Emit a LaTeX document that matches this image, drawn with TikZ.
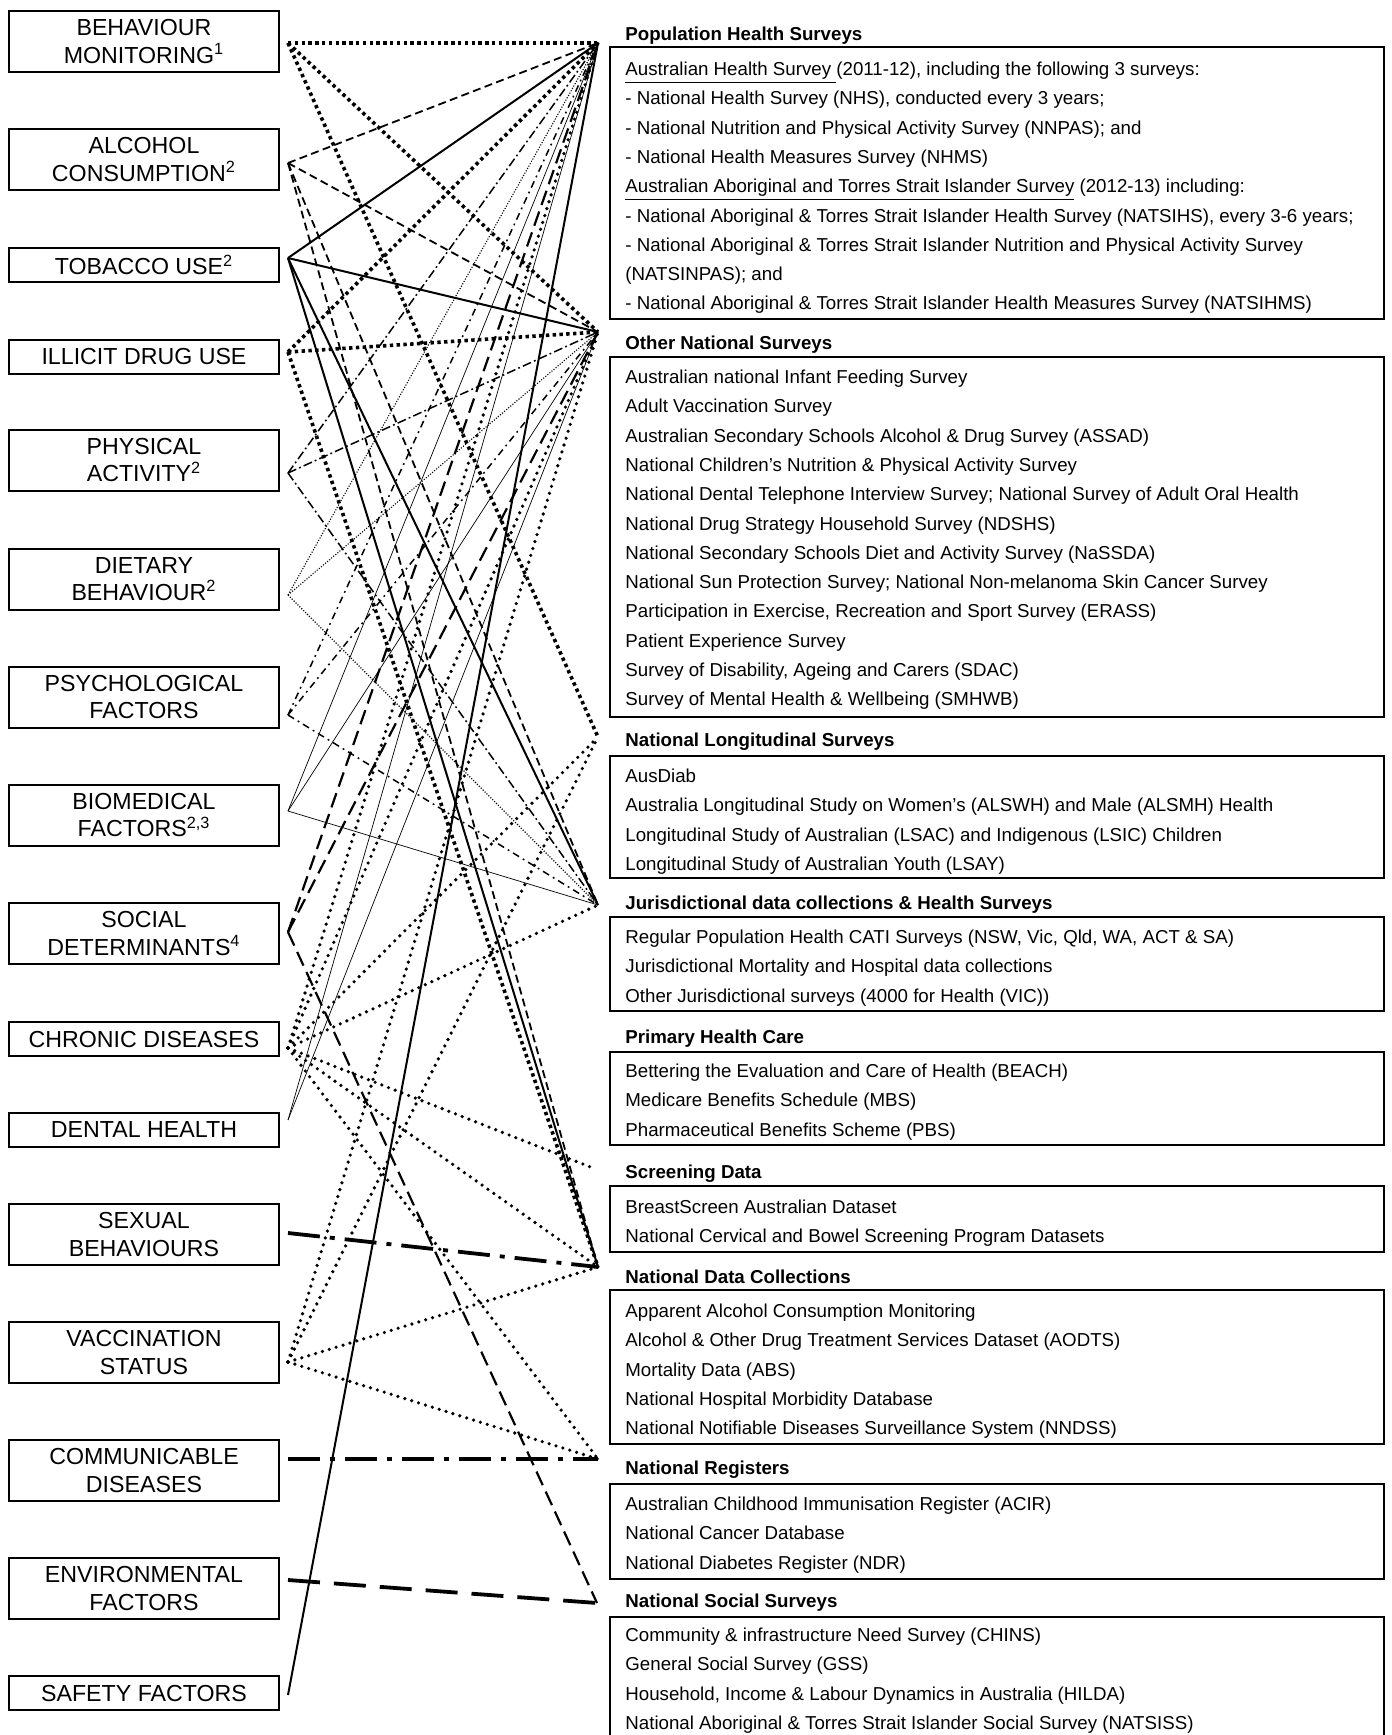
\documentclass[tikz,border=0pt]{standalone}
\usepackage{fontspec}
\setmainfont{Liberation Sans}
\begin{document}
\begin{tikzpicture}[x=0.5pt, y=-0.5pt]
	\tikzstyle{lbox} = [rectangle,draw=black,line width=1pt,minimum width=135pt,align=center,inner sep=0pt,font=\fontsize{11.6}{13.8}\selectfont]
	\tikzstyle{lbox2} = [lbox,minimum height=30.5pt]
	\tikzstyle{lbox1} = [lbox,minimum height=17pt]
	\tikzstyle{rbox} = [rectangle,draw=black,line width=1pt,minimum width=387pt,anchor=north west,inner sep=0pt]
	\tikzstyle{head} = [anchor=base west,inner sep=0pt,font=\bfseries\fontsize{9.35}{10}\selectfont]
	\tikzstyle{item} = [anchor=base west,inner sep=0pt,font=\fontsize{9.35}{10}\selectfont]
	% line looks, one per topic
	\tikzstyle{bmline} = [line width=1.8pt,dash pattern=on 1.7pt off 1.7pt]
	\tikzstyle{alcline} = [line width=0.9pt,dash pattern=on 4pt off 2.2pt]
	\tikzstyle{tobline} = [line width=1pt]
	\tikzstyle{actline} = [line width=0.75pt,dash pattern=on 4.5pt off 1.6pt on 0.9pt off 1.6pt]
	\tikzstyle{dietline} = [line width=0.55pt,dash pattern=on 0.55pt off 0.8pt]
	\tikzstyle{psyline} = [line width=0.75pt,dash pattern=on 3.5pt off 2.2pt on 0.9pt off 2.2pt]
	\tikzstyle{bioline} = [line width=0.35pt]
	\tikzstyle{socline} = [line width=1.1pt,dash pattern=on 7.5pt off 3.5pt]
	\tikzstyle{chrline} = [line width=1.8pt,line cap=round,dash pattern=on 0pt off 3.6pt]
	\tikzstyle{sexline} = [line width=1.9pt,dash pattern=on 16pt off 5pt on 2.5pt off 5pt]
	\tikzstyle{envline} = [line width=1.9pt,dash pattern=on 16pt off 7pt]
	\useasboundingbox (0,0) rectangle (1392,1735);

	% topics
	\node[lbox2](beh) at (144,41.5){BEHAVIOUR\\MONITORING\textsuperscript{1}};
	\node[lbox2](alc) at (144,159.5){ALCOHOL\\CONSUMPTION\textsuperscript{2}};
	\node[lbox1](tob) at (144,265){TOBACCO USE\textsuperscript{2}};
	\node[lbox1](ill) at (144,356.5){ILLICIT DRUG USE};
	\node[lbox2](phy) at (144,460){PHYSICAL\\ACTIVITY\textsuperscript{2}};
	\node[lbox2](die) at (144,579){DIETARY\\BEHAVIOUR\textsuperscript{2}};
	\node[lbox2](psy) at (144,697){PSYCHOLOGICAL\\FACTORS};
	\node[lbox2](bio) at (144,815){BIOMEDICAL\\FACTORS\textsuperscript{2,3}};
	\node[lbox2](soc) at (144,933.5){SOCIAL\\DETERMINANTS\textsuperscript{4}};
	\node[lbox1](chr) at (144,1039){CHRONIC DISEASES};
	\node[lbox1](den) at (144,1129.5){DENTAL HEALTH};
	\node[lbox2](sex) at (144,1234.5){SEXUAL\\BEHAVIOURS};
	\node[lbox2](vac) at (144,1352.5){VACCINATION\\STATUS};
	\node[lbox2](com) at (144,1470.5){COMMUNICABLE\\DISEASES};
	\node[lbox2](env) at (144,1588.5){ENVIRONMENTAL\\FACTORS};
	\node[lbox1](saf) at (144,1693){SAFETY FACTORS};

	\coordinate (l-beh) at (288,43);
	\coordinate (l-alc) at (288,163);
	\coordinate (l-tob) at (288,258);
	\coordinate (l-ill) at (288,352);
	\coordinate (l-phy) at (288,473);
	\coordinate (l-die) at (288,595);
	\coordinate (l-psy) at (288,715);
	\coordinate (l-bio) at (288,811);
	\coordinate (l-soc) at (288,932);
	\coordinate (l-chr) at (288,1048);
	\coordinate (l-den) at (288,1120);
	\coordinate (l-sex) at (288,1233);
	\coordinate (l-vac) at (288,1362);
	\coordinate (l-com) at (288,1459);
	\coordinate (l-env) at (288,1580);
	\coordinate (l-saf) at (288,1695);

	% sources
	\coordinate (h-phs) at (598,43);
	\coordinate (h-ons) at (598,332);
	\coordinate (h-lon) at (598,737);
	\coordinate (h-jur) at (598,905);
	\coordinate (h-scr) at (593,1168);
	\coordinate (h-ndc) at (598,1267);
	\coordinate (h-reg) at (598,1459);
	\coordinate (h-nss) at (597,1603);

	\node[head](t-phs) at (625,40.5){Population Health Surveys};
	\node[rbox,minimum height=136pt](b-phs) at (609,46){};
	\node[item](phs-1) at (625,75.5){\underline{Australian Health Survey\ }(2011-12), including the following 3 surveys:};
	\node[item](phs-2) at (625,104.8){- National Health Survey (NHS), conducted every 3 years;};
	\node[item](phs-3) at (625,134.1){- National Nutrition and Physical Activity Survey (NNPAS); and};
	\node[item](phs-4) at (625,163.4){- National Health Measures Survey (NHMS)};
	\node[item](phs-5) at (625,192.7){\underline{Australian Aboriginal and Torres Strait Islander Survey} (2012-13) including:};
	\node[item](phs-6) at (625,222){- National Aboriginal \& Torres Strait Islander Health Survey (NATSIHS), every 3-6 years;};
	\node[item](phs-7) at (625,251.3){- National Aboriginal \& Torres Strait Islander Nutrition and Physical Activity Survey};
	\node[item](phs-8) at (625,280.6){(NATSINPAS); and};
	\node[item](phs-9) at (625,309.9){- National Aboriginal \& Torres Strait Islander Health Measures Survey (NATSIHMS)};

	\node[head](t-ons) at (625,349.5){Other National Surveys};
	\node[rbox,minimum height=180pt](b-ons) at (609,356){};
	\node[item](ons-1) at (625,383.5){Australian national Infant Feeding Survey};
	\node[item](ons-2) at (625,412.8){Adult Vaccination Survey};
	\node[item](ons-3) at (625,442.1){Australian Secondary Schools Alcohol \& Drug Survey (ASSAD)};
	\node[item](ons-4) at (625,471.4){National Children's Nutrition \& Physical Activity Survey};
	\node[item](ons-5) at (625,500.7){National Dental Telephone Interview Survey; National Survey of Adult Oral Health};
	\node[item](ons-6) at (625,530){National Drug Strategy Household Survey (NDSHS)};
	\node[item](ons-7) at (625,559.3){National Secondary Schools Diet and Activity Survey (NaSSDA)};
	\node[item](ons-8) at (625,588.6){National Sun Protection Survey; National Non-melanoma Skin Cancer Survey};
	\node[item](ons-9) at (625,617.9){Participation in Exercise, Recreation and Sport Survey (ERASS)};
	\node[item](ons-10) at (625,647.2){Patient Experience Survey};
	\node[item](ons-11) at (625,676.5){Survey of Disability, Ageing and Carers (SDAC)};
	\node[item](ons-12) at (625,705.8){Survey of Mental Health \& Wellbeing (SMHWB)};

	\node[head](t-lon) at (625,746.5){National Longitudinal Surveys};
	\node[rbox,minimum height=61pt](b-lon) at (609,755){};
	\node[item](lon-1) at (625,782.5){AusDiab};
	\node[item](lon-2) at (625,811.8){Australia Longitudinal Study on Women's (ALSWH) and Male (ALSMH) Health};
	\node[item](lon-3) at (625,841.1){Longitudinal Study of Australian (LSAC) and Indigenous (LSIC) Children};
	\node[item](lon-4) at (625,870.4){Longitudinal Study of Australian Youth (LSAY)};

	\node[head](t-jur) at (625,909.5){Jurisdictional data collections \& Health Surveys};
	\node[rbox,minimum height=47pt](b-jur) at (609,916){};
	\node[item](jur-1) at (625,943.5){Regular Population Health CATI Surveys (NSW, Vic, Qld, WA, ACT \& SA)};
	\node[item](jur-2) at (625,972.8){Jurisdictional Mortality and Hospital data collections};
	\node[item](jur-3) at (625,1002.1){Other Jurisdictional surveys (4000 for Health (VIC))};

	\node[head](t-phc) at (625,1043.5){Primary Health Care};
	\node[rbox,minimum height=46.5pt](b-phc) at (609,1051){};
	\node[item](phc-1) at (625,1077.5){Bettering the Evaluation and Care of Health (BEACH)};
	\node[item](phc-2) at (625,1106.8){Medicare Benefits Schedule (MBS)};
	\node[item](phc-3) at (625,1136.1){Pharmaceutical Benefits Scheme (PBS)};

	\node[head](t-scr) at (625,1178.5){Screening Data};
	\node[rbox,minimum height=33pt](b-scr) at (609,1185){};
	\node[item](scr-1) at (625,1213.5){BreastScreen Australian Dataset};
	\node[item](scr-2) at (625,1242.8){National Cervical and Bowel Screening Program Datasets};

	\node[head](t-ndc) at (625,1283.5){National Data Collections};
	\node[rbox,minimum height=77pt](b-ndc) at (609,1289){};
	\node[item](ndc-1) at (625,1317.5){Apparent Alcohol Consumption Monitoring};
	\node[item](ndc-2) at (625,1346.8){Alcohol \& Other Drug Treatment Services Dataset (AODTS)};
	\node[item](ndc-3) at (625,1376.1){Mortality Data (ABS)};
	\node[item](ndc-4) at (625,1405.4){National Hospital Morbidity Database};
	\node[item](ndc-5) at (625,1434.7){National Notifiable Diseases Surveillance System (NNDSS)};

	\node[head](t-reg) at (625,1474.5){National Registers};
	\node[rbox,minimum height=47.5pt](b-reg) at (609,1483){};
	\node[item](reg-1) at (625,1510.5){Australian Childhood Immunisation Register (ACIR)};
	\node[item](reg-2) at (625,1539.8){National Cancer Database};
	\node[item](reg-3) at (625,1569.1){National Diabetes Register (NDR)};

	\node[head](t-nss) at (625,1607.5){National Social Surveys};
	\node[rbox,minimum height=70pt](b-nss) at (609,1616){};
	\node[item](nss-1) at (625,1641.5){Community \& infrastructure Need Survey (CHINS)};
	\node[item](nss-2) at (625,1670.8){General Social Survey (GSS)};
	\node[item](nss-3) at (625,1700.1){Household, Income \& Labour Dynamics in Australia (HILDA)};
	\node[item](nss-4) at (625,1729.4){National Aboriginal \& Torres Strait Islander Social Survey (NATSISS)};

	\path[bmline] (l-beh) edge (h-phs)
	(l-beh) edge (h-ons)
	(l-beh) edge (h-lon)
	(l-ill) edge (h-phs)
	(l-ill) edge (h-ons)
	(l-ill) edge (h-ndc);
	\path[alcline] (l-alc) edge (h-phs)
	(l-alc) edge (h-ons)
	(l-alc) edge (h-jur)
	(l-alc) edge (h-ndc);
	\path[tobline] (l-tob) edge (h-phs)
	(l-tob) edge (h-ons)
	(l-tob) edge (h-jur)
	(l-tob) edge (h-ndc)
	(l-saf) edge (h-phs);
	\path[actline] (l-phy) edge (h-phs)
	(l-phy) edge (h-ons)
	(l-phy) edge (h-jur);
	\path[dietline] (l-die) edge (h-phs)
	(l-die) edge (h-ons)
	(l-die) edge (h-jur);
	\path[psyline] (l-psy) edge (h-phs)
	(l-psy) edge (h-ons)
	(l-psy) edge (h-jur);
	\path[bioline] (l-bio) edge (h-phs)
	(l-bio) edge (h-ons)
	(l-bio) edge (h-jur)
	(l-den) edge (h-phs)
	(l-den) edge (h-ons);
	\path[socline] (l-soc) edge (h-phs)
	(l-soc) edge (h-ons)
	(l-soc) edge (h-nss);
	\path[chrline] (l-chr) edge (h-phs)
	(l-chr) edge (h-ons)
	(l-chr) edge (h-lon)
	(l-chr) edge (h-jur)
	(l-chr) edge (h-scr)
	(l-chr) edge (h-ndc)
	(l-chr) edge (h-reg)
	(l-vac) edge (h-ons)
	(l-vac) edge (h-lon)
	(l-vac) edge (h-ndc)
	(l-vac) edge (h-reg);
	\path[sexline] (l-sex) edge (h-ndc)
	(l-com) edge (h-reg);
	\path[envline] (l-env) edge (h-nss);
\end{tikzpicture}
\end{document}
